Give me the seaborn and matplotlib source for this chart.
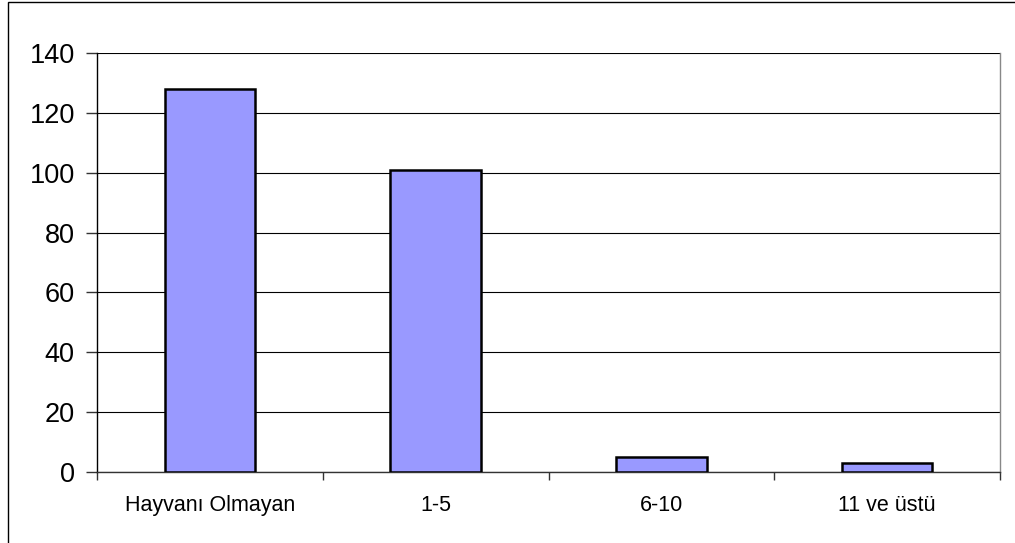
import pandas as pd
import matplotlib.pyplot as plt
import seaborn as sns
from matplotlib.patches import Rectangle

# veriler
kategoriler = ['Hayvanı Olmayan', '1-5', '6-10', '11 ve üstü']
degerler = [128, 101, 5, 3]
y_ticks = [0, 20, 40, 60, 80, 100, 120, 140]

df = pd.DataFrame({'grup': kategoriler, 'sayi': degerler})

sns.set_style('white')
plt.rcParams['font.family'] = ['Liberation Sans', 'DejaVu Sans']

fig = plt.figure(figsize=(10.15, 5.43), dpi=100)
ax = fig.add_axes([97 / 1015, 71 / 543, 903 / 1015, 419 / 543])

sns.barplot(data=df, x='grup', y='sayi', color='#9999FF', edgecolor='black',
            linewidth=1.8, width=0.4, saturation=1, ax=ax, zorder=3)

ax.set_ylim(0, 140)
ax.set_xlim(-0.5, 3.5)
ax.set_yticks(y_ticks)
ax.set_yticklabels([str(t) for t in y_ticks], fontsize=19.5, color='black')
ax.yaxis.grid(True, color='black', linewidth=0.8, zorder=0)
ax.set_axisbelow(True)
ax.set_xlabel('')
ax.set_ylabel('')

# kategori araligi tik isaretleri
ax.set_xticks([i + 0.5 for i in range(-1, 4)], minor=True)
ax.tick_params(axis='x', which='major', bottom=False, labelsize=15.5,
               labelcolor='black', pad=13)
ax.tick_params(axis='x', which='minor', bottom=True, length=6, width=1,
               color='#333333', direction='out')
ax.tick_params(axis='y', left=True, length=8, width=1, color='#333333',
               direction='out', pad=8)

ax.spines['top'].set_visible(False)
ax.spines['left'].set_color('black')
ax.spines['bottom'].set_color('#333333')
ax.spines['right'].set_color('#888888')
for s in ax.spines.values():
    s.set_linewidth(1)

# grafik alani cercevesi
fig.patches.append(Rectangle((8 / 1015, -0.01), 1.1, 1.01 - 2 / 543,
                             transform=fig.transFigure, fill=False,
                             edgecolor='black', linewidth=1))

fig.savefig('out.png', dpi=100)
